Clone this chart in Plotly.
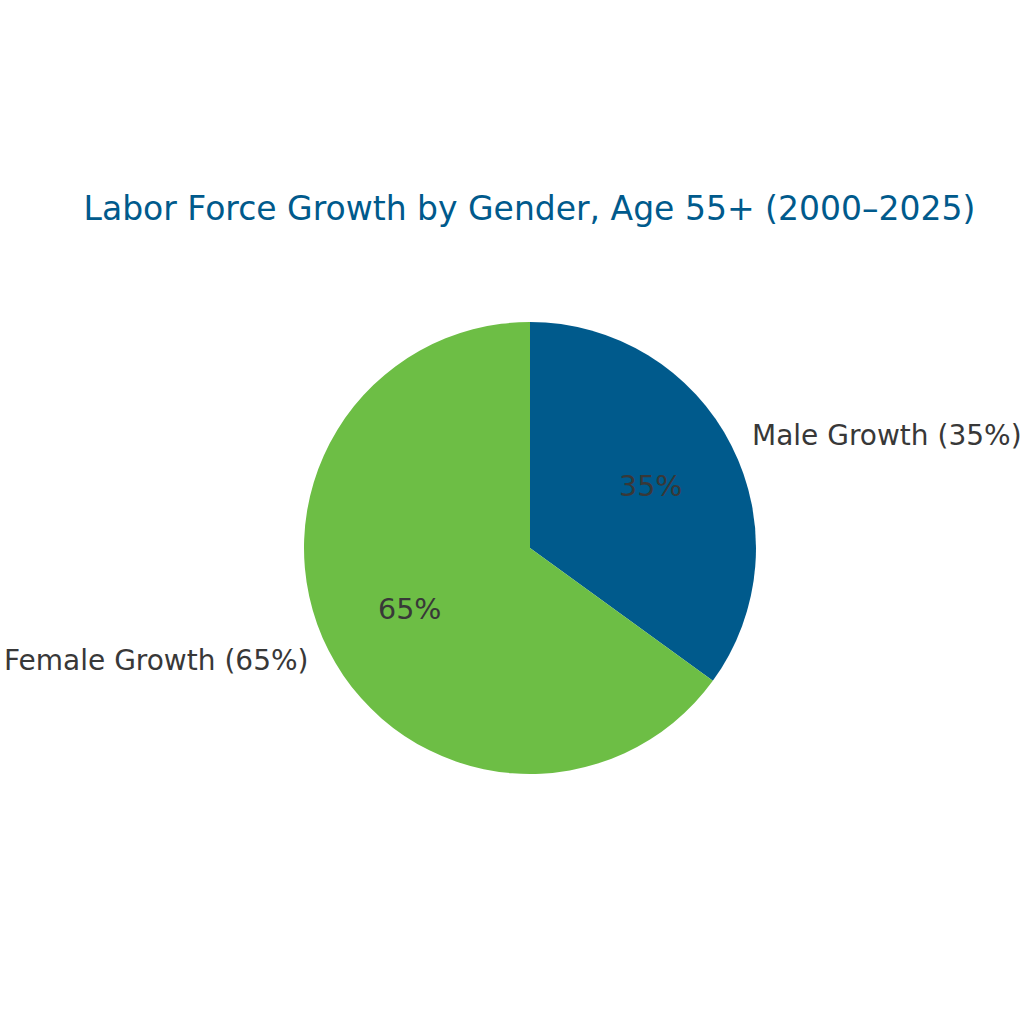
import math
import plotly.graph_objects as go

labels = ["Male Growth", "Female Growth"]
values = [35, 65]
colors = ["#005A8C", "#6DBE45"]
title_text = "Labor Force Growth by Gender, Age 55+ (2000–2025)"

W = H = 1024
cx, cy, r = 530, 548, 226
dom_x = [(cx - r) / W, (cx + r) / W]
dom_y = [1 - (cy + r) / H, 1 - (cy - r) / H]
TXT = "#383838"

fig = go.Figure()
fig.add_trace(go.Pie(
    labels=labels, values=values, sort=False, direction="clockwise", rotation=0,
    marker=dict(colors=colors, line=dict(width=0)),
    textinfo="none", domain=dict(x=dom_x, y=dom_y), showlegend=False, hoverinfo="skip",
))

total = sum(values)
cum = 0
for lab, v in zip(labels, values):
    frac_mid = (cum + v / 2) / total
    cum += v
    theta = math.radians(90 - 360 * frac_mid)
    c, s = math.cos(theta), math.sin(theta)
    pct = f"{100 * v / total:.0f}%"
    # percentage inside at 0.6 r
    fig.add_annotation(x=(cx + 0.6 * r * c) / W, y=1 - (cy - 0.6 * r * s) / H,
                       xref="paper", yref="paper", text=pct, showarrow=False,
                       xanchor="center", yanchor="middle", borderpad=0, borderwidth=0,
                       font=dict(family="DejaVu Sans", size=28.5, color=TXT))
    # label outside at 1.1 r
    fig.add_annotation(x=(cx + 1.1 * r * c) / W, y=1 - (cy - 1.1 * r * s) / H,
                       xref="paper", yref="paper", text=f"{lab} ({pct})", showarrow=False,
                       xanchor="left" if c > 0 else "right", yanchor="middle",
                       borderpad=0, borderwidth=0,
                       font=dict(family="DejaVu Sans", size=28, color=TXT))

fig.update_layout(
    width=W, height=H, margin=dict(l=0, r=0, t=0, b=0),
    paper_bgcolor="white", plot_bgcolor="white",
    title=dict(text=title_text, x=0.517, xanchor="center", y=1 - 208 / H, yanchor="middle",
               font=dict(family="DejaVu Sans", size=33, color="#005A8C")),
)
fig.write_html("out.html")
